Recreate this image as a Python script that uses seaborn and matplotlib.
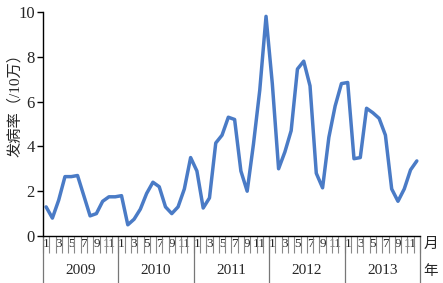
import pandas as pd
import seaborn as sns
import matplotlib.pyplot as plt
from matplotlib.lines import Line2D

sns.set_theme(style="white")
plt.rcParams['font.family'] = ['Liberation Serif', 'Noto Sans CJK SC']

years = ["2009", "2010", "2011", "2012", "2013"]
month_labels = ["1", "3", "5", "7", "9", "11"]
rate = [
    1.3, 0.8, 1.6, 2.65, 2.65, 2.7, 1.8, 0.9, 1.0, 1.55, 1.75, 1.75,
    1.8, 0.5, 0.75, 1.2, 1.9, 2.4, 2.2, 1.3, 1.0, 1.3, 2.1, 3.5,
    2.9, 1.25, 1.7, 4.15, 4.5, 5.3, 5.2, 2.9, 2.0, 4.1, 6.5, 9.8,
    6.8, 3.0, 3.75, 4.7, 7.45, 7.8, 6.7, 2.8, 2.15, 4.4, 5.8, 6.8,
    6.85, 3.45, 3.5, 5.7, 5.5, 5.25, 4.5, 2.1, 1.55, 2.1, 2.95, 3.35,
]

df = pd.DataFrame({"month": range(len(rate)), "rate": rate})

fig = plt.figure(figsize=(4.43, 2.83), dpi=100)
ax = fig.add_axes([0.097, 0.166, 0.851, 0.792])

sns.lineplot(data=df, x="month", y="rate", color="#4a7bc6", linewidth=2.5, ax=ax)

ax.set_xlim(-0.5, len(rate) - 0.5)
ax.set_ylim(0, 10)
ax.set_yticks(range(0, 11, 2))
ax.tick_params(axis="y", direction="out", length=4, width=1, color="black",
               labelsize=12, pad=2, left=True)
for s in ["top", "right"]:
    ax.spines[s].set_visible(False)
for s in ["left", "bottom"]:
    ax.spines[s].set_color("black")
    ax.spines[s].set_linewidth(1)

# month labels on odd months, separators between every month
ax.set_xticks(range(0, len(rate), 2))
ax.set_xticklabels(month_labels * len(years))
ax.set_xticks([i - 0.5 for i in range(len(rate) + 1)], minor=True)
ax.tick_params(axis="x", which="major", length=0, labelsize=9.5, pad=1.5)
ax.tick_params(axis="x", which="minor", direction="out", length=12,
               width=0.8, color="#888888", bottom=True)
ax.set_xlabel("")

trans = ax.get_xaxis_transform()
for k, yr in enumerate(years):
    ax.text(k * 12 + 5.5, -0.155, yr, transform=trans, ha="center",
            va="center", fontsize=11)
for k in range(len(years) + 1):
    ax.add_line(Line2D([k * 12 - 0.5, k * 12 - 0.5], [0, -0.21],
                       transform=trans, color="#777777", lw=0.9, clip_on=False))

fig.text(0.972, 0.138, "月", ha="center", va="center", fontsize=10.5)
fig.text(0.972, 0.042, "年", ha="center", va="center", fontsize=10.5)

ax.set_ylabel("发病率（/10万）", fontsize=11)
ax.yaxis.set_label_coords(-0.056, 0.6)

fig.savefig("out.png", dpi=100)
